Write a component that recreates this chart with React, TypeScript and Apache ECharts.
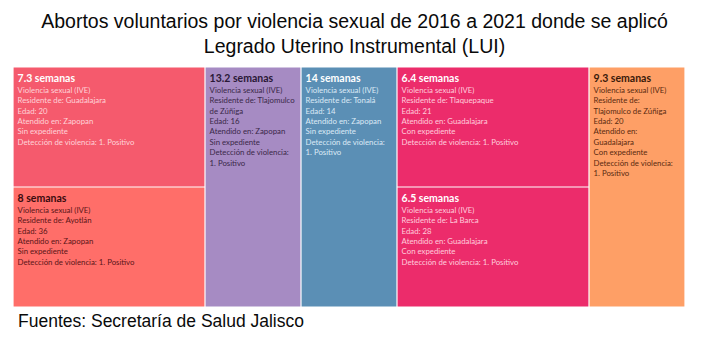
import React, { useEffect, useRef } from "react";
import * as echarts from "echarts";

const titleText = "Abortos voluntarios por violencia sexual de 2016 a 2021 donde se aplicó\nLegrado Uterino Instrumental (LUI)";
const sourceText = "Fuentes: Secretaría de Salud Jalisco";

// One case per cell
const weeks = ["7.3", "8", "13.2", "14", "6.4", "6.5", "9.3"];
const caseCounts = [1, 1, 1, 1, 1, 1, 1];
const violenceType = "Violencia sexual (IVE)";
const residences = ["Guadalajara", "Ayotlán", "Tlajomulco\nde Zúñiga", "Tonalá", "Tlaquepaque", "La Barca", "\nTlajomulco de Zúñiga"];
const ages = [20, 36, 16, 14, 21, 28, 20];
const attendedIn = ["Zapopan", "Zapopan", "Zapopan", "Zapopan", "Guadalajara", "Guadalajara", "\nGuadalajara"];
const records = ["Sin expediente", "Sin expediente", "Sin expediente", "Sin expediente", "Con expediente", "Con expediente", "Con expediente"];
const detection = ["1. Positivo", "1. Positivo", "\n1. Positivo", "\n1. Positivo", "1. Positivo", "1. Positivo", "\n1. Positivo"];
// grouping of cells into columns
const columns = [[0, 1], [2], [3], [4, 5], [6]];

const fillColors = ["#F55A6D", "#FF6E69", "#A68BC3", "#5B8FB5", "#EC2C6B", "#EC2C6B", "#FE9F66"];
const headColors = ["#FFFFFF", "#3A0B0E", "#2A1836", "#FFFFFF", "#FFFFFF", "#FFFFFF", "#3A1A0A"];
const textColors = ["#FFD3D8", "#5A1518", "#3A2848", "#DCEAF5", "#FFCCDC", "#FFCCDC", "#5A2A10"];

function leaf(i: number) {
  const lines = [
    violenceType,
    "Residente de: " + residences[i],
    "Edad: " + ages[i],
    "Atendido en: " + attendedIn[i],
    records[i],
    "Detección de violencia: " + detection[i],
  ]
    .join("\n")
    .split("\n")
    .map((l) => "{d|" + l.trim() + "}")
    .join("\n");
  return {
    name: weeks[i] + " semanas",
    value: caseCounts[i],
    itemStyle: { color: fillColors[i], borderWidth: 0.6, borderColor: "rgba(255,255,255,0.75)", gapWidth: 0 },
    label: {
      show: true,
      position: "insideTopLeft",
      distance: 0,
      padding: [4, 0, 0, 4],
      overflow: "none",
      formatter: "{t|" + weeks[i] + " semanas}\n" + lines,
      rich: {
        t: { fontSize: 10.5, fontWeight: "bold", color: headColors[i], fontFamily: "Lato", lineHeight: 13 },
        d: { fontSize: 7.8, color: textColors[i], fontFamily: "Lato", lineHeight: 10.4 },
      },
    },
  };
}

const treeData = columns.map((col, ci) =>
  col.length === 1
    ? leaf(col[0])
    : {
        name: "col" + ci,
        value: col.reduce((s, k) => s + caseCounts[k], 0),
        itemStyle: { borderWidth: 0, gapWidth: 0, borderColor: "transparent" },
        label: { show: false },
        upperLabel: { show: false },
        children: col.map((k) => leaf(k)),
      }
);

export default function App() {
  const ref = useRef<HTMLDivElement>(null);
  useEffect(() => {
    const chart = echarts.init(ref.current!, undefined, { renderer: "svg" });
    chart.setOption({
      animation: false,
      backgroundColor: "#FFFFFF",
      title: [
        {
          text: titleText,
          left: "center",
          top: 3,
          textStyle: { fontFamily: "Liberation Sans", fontSize: 19.5, fontWeight: "normal", color: "#0A0A0A", lineHeight: 25, align: "center" },
        },
        {
          text: sourceText,
          left: 13,
          top: 307,
          textStyle: { fontFamily: "Liberation Sans", fontSize: 17.5, fontWeight: "normal", color: "#0A0A0A" },
        },
      ],
      series: [
        {
          type: "treemap",
          left: 13,
          top: 67,
          width: 672,
          height: 240,
          roam: false,
          nodeClick: false,
          sort: false,
          squareRatio: 0.5,
          breadcrumb: { show: false },
          visibleMin: 0,
          itemStyle: { borderWidth: 0, gapWidth: 0 },
          upperLabel: { show: false },
          emphasis: { disabled: true },
          data: treeData,
        },
      ],
    });
    return () => chart.dispose();
  }, []);
  return <div ref={ref} style={{ position: "fixed", left: 0, top: 0, width: 709, height: 349 }} />;
}
